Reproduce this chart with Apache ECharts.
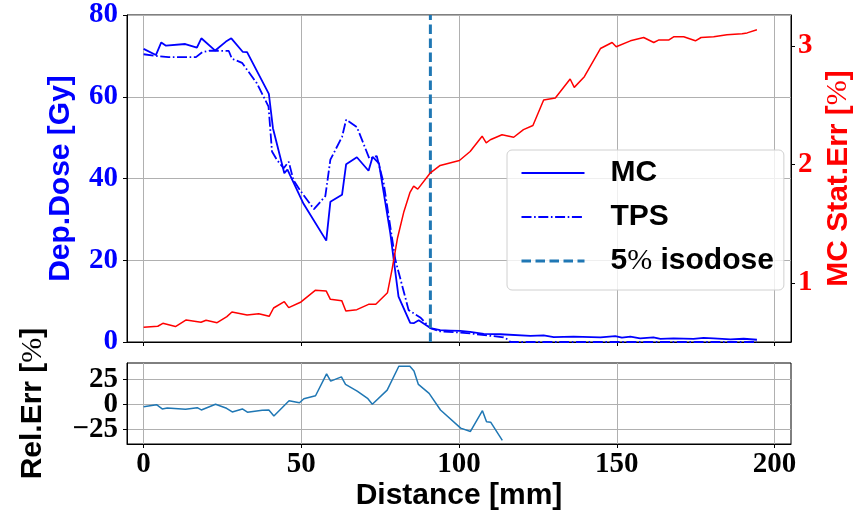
<!DOCTYPE html>
<html>
<head>
<meta charset="utf-8">
<script src="https://cdn.jsdelivr.net/npm/echarts@6/dist/echarts.min.js"></script>
<style>
  html, body { margin: 0; padding: 0; background: #ffffff; }
  #chart { width: 855px; height: 519px; }
</style>
</head>
<body>
<div id="chart"></div>
<script>
// Monte Carlo deposited dose along the profile
const mcDistance = [0.0, 3.9, 5.6, 7.1, 13.2, 16.9, 18.3, 22.7, 26.1, 27.8, 31.4, 32.8, 39.7, 41.0, 44.6, 45.6,
  50.7, 57.9, 59.2, 62.9, 64.2, 67.6, 71.3, 72.6, 74.6, 78.2, 80.8, 84.5, 85.6, 87.2, 90.9, 94.0, 97.2,
  100.4, 103.5, 107.8, 113.1, 122.6, 126.8, 130.0, 136.3, 144.8, 149.5, 151.6, 154.3, 157.4, 161.6,
  163.8, 168.0, 174.3, 177.5, 180.7, 186.0, 190.2, 194.4];
const mcDose = [71.7, 70.2, 73.3, 72.5, 72.9, 72.0, 74.3, 71.3, 73.5, 74.3, 71.0, 70.9, 60.7, 52.3, 41.3, 42.2,
  33.8, 24.8, 34.3, 36.0, 43.5, 45.2, 41.9, 45.3, 43.7, 26.6, 11.1, 4.7, 4.6, 5.3, 3.4, 2.9, 2.8,
  2.7, 2.5, 2.0, 1.9, 1.5, 1.6, 1.2, 1.3, 1.15, 1.45, 1.05, 1.3, 0.9, 1.15,
  0.75, 0.9, 0.75, 1.0, 0.9, 0.65, 0.8, 0.55];

// Treatment planning system dose along the same profile
const tpsDistance = [0.0, 3.9, 7.9, 16.6, 18.6, 21.1, 27.0, 28.0, 31.2, 35.9, 39.6, 40.7, 42.3, 44.4, 46.0,
  47.5, 49.7, 54.0, 57.6, 59.2, 62.9, 64.2, 67.6, 71.6, 73.9, 76.1, 79.8, 84.0, 87.7, 90.9, 94.0,
  100.4, 103.5, 110.0, 114.1, 115.7, 116.2, 194.4];
const tpsDose = [70.4, 70.0, 69.7, 69.7, 70.9, 71.3, 71.2, 69.3, 68.3, 63.3, 57.6, 46.6, 44.5, 42.5, 44.1,
  39.6, 37.0, 32.5, 35.7, 44.6, 50.2, 54.4, 52.6, 44.8, 45.5, 38.8, 20.1, 7.8, 6.0, 3.4, 2.6,
  2.3, 2.1, 1.5, 1.15, 0.5, 0.0, 0.0];

// Monte Carlo statistical uncertainty (%)
const statErrDistance = [0.0, 4.5, 6.1, 10.1, 13.5, 18.2, 19.8, 23.3, 26.4, 28.0, 32.8, 36.5, 39.8, 41.2,
  44.6, 46.0, 49.9, 54.4, 57.9, 59.2, 62.8, 64.1, 67.6, 71.3, 73.6, 77.3, 78.8, 80.5, 82.5, 84.4,
  85.6, 86.9, 90.8, 94.0, 100.1, 103.5, 107.3, 108.6, 109.9, 113.6, 117.3, 120.4, 123.4, 126.8,
  130.5, 135.2, 136.5, 139.7, 144.8, 148.5, 149.8, 154.3, 158.5, 161.7, 163.2, 166.4, 168.0,
  171.2, 174.9, 176.7, 180.7, 184.9, 189.7, 191.3, 194.4];
const statErr = [0.625, 0.633, 0.658, 0.630, 0.686, 0.667, 0.684, 0.663, 0.714, 0.753, 0.728, 0.739, 0.717, 0.787,
  0.840, 0.790, 0.838, 0.936, 0.930, 0.860, 0.849, 0.762, 0.773, 0.818, 0.818, 0.916, 1.12, 1.38, 1.60, 1.76,
  1.816, 1.79, 1.925, 1.99, 2.032, 2.108, 2.237, 2.181, 2.207, 2.249, 2.228, 2.293, 2.327, 2.543,
  2.560, 2.720, 2.649, 2.739, 2.977, 3.028, 2.992, 3.042, 3.070, 3.028, 3.048, 3.048, 3.076,
  3.076, 3.042, 3.070, 3.076, 3.093, 3.101, 3.109, 3.135];

// Relative difference between MC and TPS (%)
const relErrDistance = [0.0, 4.1, 5.9, 7.5, 13.3, 17.0, 18.3, 22.8, 26.3, 28.1, 31.3, 32.9, 37.6, 39.7, 41.3,
  46.1, 49.4, 50.8, 54.5, 58.0, 59.3, 62.7, 64.0, 67.7, 71.1, 72.5, 77.2, 80.9, 84.4, 85.7, 87.1,
  90.5, 94.1, 100.5, 103.6, 107.4, 108.7, 110.0, 113.7];
const relErr = [-2.4, -0.4, -4.7, -3.7, -5.0, -3.4, -5.7, 0.0, -4.0, -7.7, -4.7, -8.0, -6.0, -5.7, -11.7,
  3.6, 1.6, 5.6, 8.6, 30.6, 23.3, 27.6, 20.0, 13.3, 5.6, 0.0, 14.3, 38.3, 38.3, 33.6, 20.0,
  11.0, -5.7, -24.0, -27.4, -6.4, -17.7, -18.0, -36.4];

// Position of the 5% isodose (mm)
const isodoseDistance = 90.9;

// Tick positions
const distanceTicks = [0, 50, 100, 150, 200];
const statErrTicks = [1, 2, 3];
const relErrTicks = [-25, 0, 25];
// The ±25 labels sit on one axis and the middle one on an overlaid axis,
// so the tight tick spacing does not make ECharts drop any of them.
const relErrOuterTicks = [relErrTicks[0], relErrTicks[2]];
const relErrInnerTicks = [relErrTicks[1]];

const pairs = (xs, ys) => xs.map((x, i) => [x, ys[i]]);

const SERIF = 'Liberation Serif';
const SANS = 'Liberation Sans';
const tickFont = () => ({ fontFamily: SERIF, fontWeight: 'bold', fontSize: 29, showMinLabel: true, showMaxLabel: true, hideOverlap: false });
const nameFont = () => ({ fontFamily: SANS, fontWeight: 'bold', fontSize: 30 });
const pctStyle = color => ({ p: { fontFamily: SERIF, fontWeight: 'normal', fontSize: 30, color: color } });
const gridLine = () => ({ show: true, lineStyle: { color: '#b0b0b0', width: 1 } });
const blackLine = () => ({ show: true, onZero: false, lineStyle: { color: '#000', width: 1 } });
const tick = custom => ({ show: true, customValues: custom, length: 4, lineStyle: { color: '#000' } });
const minus = v => (v < 0 ? '\u2212' + Math.abs(v) : String(v));

const relErrMin = -40;
const relErrMax = 41.6;

const chart = echarts.init(document.getElementById('chart'), null, { renderer: 'canvas' });

chart.setOption({
  animation: false,
  backgroundColor: '#ffffff',
  grid: [
    { left: 127, top: 15, width: 664, height: 327, outerBoundsMode: 'none', containLabel: false,
      show: true, borderColor: '#000', borderWidth: 1, backgroundColor: 'transparent' },
    { left: 127, top: 363, width: 664, height: 81, outerBoundsMode: 'none', containLabel: false,
      show: true, borderColor: '#000', borderWidth: 1, backgroundColor: 'transparent' }
  ],
  legend: {
    orient: 'vertical',
    left: 507,
    top: 150,
    data: [
      { name: 'MC', lineStyle: { width: 1.8 } },
      { name: 'TPS', lineStyle: { width: 1.8 } },
      { name: '5% isodose', lineStyle: { width: 3 } }
    ],
    itemWidth: 63,
    itemHeight: 14,
    itemGap: 14,
    padding: [8, 10, 14, 13],
    backgroundColor: 'rgba(255,255,255,0.8)',
    borderColor: '#d0d0d0',
    borderWidth: 1,
    borderRadius: 5,
    itemStyle: { opacity: 0 },
    formatter: name => name.replace('%', '{p|%}'),
    textStyle: Object.assign({ color: '#000', padding: [0, 0, 0, 21], rich: pctStyle('#000') }, nameFont())
  },
  xAxis: [
    {
      gridIndex: 0, type: 'value', min: -5.26, max: 205.2,
      axisLine: blackLine(),
      axisTick: tick(distanceTicks),
      axisLabel: { show: false, customValues: distanceTicks },
      splitLine: gridLine()
    },
    {
      gridIndex: 1, type: 'value', min: -5.26, max: 205.2,
      axisLine: blackLine(),
      axisTick: tick(distanceTicks),
      axisLabel: Object.assign({ show: true, customValues: distanceTicks, margin: 6, color: '#000' }, tickFont()),
      splitLine: gridLine(),
      name: 'Distance [mm]',
      nameLocation: 'middle',
      nameGap: 37,
      nameTextStyle: Object.assign({ color: '#000' }, nameFont())
    }
  ],
  yAxis: [
    {
      gridIndex: 0, type: 'value', position: 'left', min: 0, max: 80, interval: 20,
      axisLine: blackLine(),
      axisTick: { show: true, length: 4, lineStyle: { color: '#000' } },
      axisLabel: Object.assign({ color: '#0000ff', margin: 9 }, tickFont()),
      splitLine: gridLine(),
      name: 'Dep.Dose [Gy]',
      nameLocation: 'middle',
      nameGap: 51,
      nameTextStyle: Object.assign({ color: '#0000ff' }, nameFont())
    },
    {
      gridIndex: 0, type: 'value', position: 'right', min: 0.5, max: 3.26,
      axisLine: blackLine(),
      axisTick: tick(statErrTicks),
      axisLabel: Object.assign({ customValues: statErrTicks, color: '#ff0000', margin: 7 }, tickFont()),
      splitLine: { show: false },
      name: 'MC Stat.Err [{p|%}]',
      nameLocation: 'middle',
      nameGap: 27,
      nameTextStyle: Object.assign({ color: '#ff0000', rich: pctStyle('#ff0000') }, nameFont())
    },
    {
      gridIndex: 1, type: 'value', position: 'left', min: relErrMin, max: relErrMax,
      axisLine: blackLine(),
      axisTick: tick(relErrTicks),
      axisLabel: Object.assign({ customValues: relErrOuterTicks, color: '#000', margin: 9, formatter: minus }, tickFont()),
      splitLine: gridLine(),
      name: 'Rel.Err [{p|%}]',
      nameLocation: 'middle',
      nameGap: 79,
      nameTextStyle: Object.assign({ color: '#000', rich: pctStyle('#000') }, nameFont())
    },
    {
      gridIndex: 1, type: 'value', position: 'left', offset: 0, min: relErrMin, max: relErrMax,
      axisLine: { show: false, onZero: false },
      axisTick: { show: false },
      axisLabel: Object.assign({ customValues: relErrInnerTicks, color: '#000', margin: 9, formatter: minus }, tickFont()),
      splitLine: { show: false }
    }
  ],
  series: [
    {
      name: 'MC', type: 'line', xAxisIndex: 0, yAxisIndex: 0, symbol: 'none',
      data: pairs(mcDistance, mcDose),
      lineStyle: { color: '#0000ff', width: 1.8 },
      itemStyle: { color: '#0000ff' }, z: 3
    },
    {
      name: 'TPS', type: 'line', xAxisIndex: 0, yAxisIndex: 0, symbol: 'none',
      data: pairs(tpsDistance, tpsDose),
      lineStyle: { color: '#0000ff', width: 1.8, type: [10, 2.6, 1.6, 2.6] },
      itemStyle: { color: '#0000ff' }, z: 3
    },
    {
      name: '5% isodose', type: 'line', xAxisIndex: 0, yAxisIndex: 0, symbol: 'none',
      data: [[isodoseDistance, 0], [isodoseDistance, 80]],
      lineStyle: { color: '#1f77b4', width: 3, type: [9.5, 4.5] },
      itemStyle: { color: '#1f77b4' }, z: 3
    },
    {
      name: 'MC Stat.Err', type: 'line', xAxisIndex: 0, yAxisIndex: 1, symbol: 'none',
      data: pairs(statErrDistance, statErr),
      lineStyle: { color: '#ff0000', width: 1.5 },
      itemStyle: { color: '#ff0000' }, z: 4
    },
    {
      name: 'Rel.Err', type: 'line', xAxisIndex: 1, yAxisIndex: 2, symbol: 'none',
      data: pairs(relErrDistance, relErr),
      lineStyle: { color: '#1f77b4', width: 1.5 },
      itemStyle: { color: '#1f77b4' }, z: 3
    }
  ]
});
</script>
</body>
</html>
